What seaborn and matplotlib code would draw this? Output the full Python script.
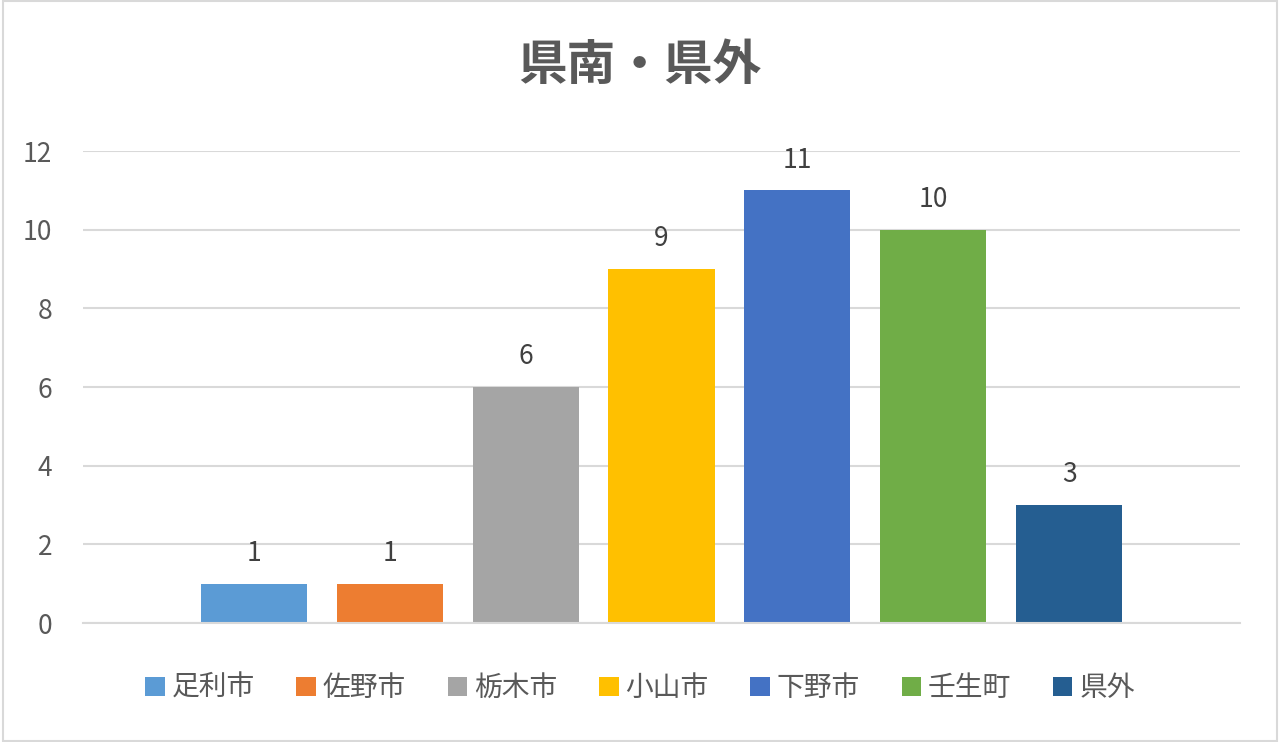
import matplotlib
matplotlib.use("Agg")
import matplotlib.pyplot as plt
import seaborn as sns
import pandas as pd
from matplotlib.patches import Patch, Rectangle

categories = ["足利市", "佐野市", "栃木市", "小山市", "下野市", "壬生町", "県外"]
values = [1, 1, 6, 9, 11, 10, 3]
colors = ["#5B9BD5", "#ED7D31", "#A5A5A5", "#FFC000", "#4472C4", "#70AD47", "#255E91"]
title = "県南・県外"
yticks = [0, 2, 4, 6, 8, 10, 12]

sns.set_theme(style="white")
plt.rcParams["font.family"] = ["Noto Sans CJK JP", "DejaVu Sans"]

df = pd.DataFrame({"cat": categories, "val": values})

fig = plt.figure(figsize=(12.8, 7.42), dpi=100)
ax = fig.add_axes([83/1280, 1 - 623/742, (1240 - 83)/1280, (623 - 151)/742])

sns.barplot(data=df, x="cat", y="val", hue="cat", palette=colors, width=0.78,
            legend=False, ax=ax, saturation=1, order=categories, hue_order=categories,
            linewidth=0, edgecolor="none")

ax.set_xlim(-1.255, 7.255)
ax.set_ylim(0, 12)
ax.set_yticks(yticks)
ax.set_yticklabels([str(t) for t in yticks], fontsize=19, color="#595959")
ax.tick_params(axis="y", length=0, pad=22)
ax.set_xticks([])
ax.set_xlabel("")
ax.set_ylabel("")
ax.grid(axis="y", color="#D9D9D9", linewidth=1.5)
ax.set_axisbelow(True)
for s in ["top", "right", "left"]:
    ax.spines[s].set_visible(False)
ax.spines["bottom"].set_color("#D9D9D9")
ax.spines["bottom"].set_linewidth(1.5)

for c in ax.containers:
    ax.bar_label(c, fontsize=19, color="#404040", padding=12)

fig.text(0.5, 1 - 65/742, title, ha="center", va="center", fontsize=35,
         fontweight="bold", color="#595959")

handles = [Patch(facecolor=col, edgecolor="none", label=lab) for col, lab in zip(colors, categories)]
fig.legend(handles=handles, loc="center", bbox_to_anchor=(0.5, 1 - 688/742), ncol=7,
           frameon=False, fontsize=20, handlelength=0.7, handleheight=0.7,
           handletextpad=0.25, columnspacing=1.5, labelcolor="#595959")

fig.add_artist(Rectangle((0.002, 0.002), 0.996, 0.996, transform=fig.transFigure,
                         fill=False, edgecolor="#D9D9D9", linewidth=1.5))

fig.savefig("out.png", dpi=100, facecolor="white")
